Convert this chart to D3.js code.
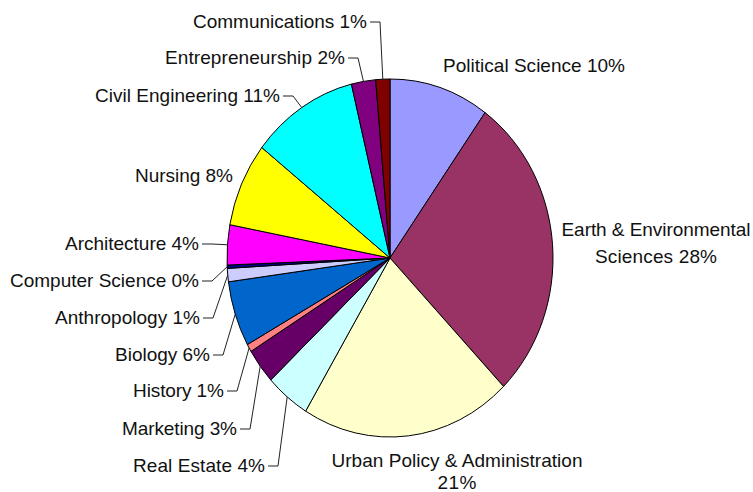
<!DOCTYPE html>
<html>
<head>
<meta charset="utf-8">
<script src="https://cdn.jsdelivr.net/npm/d3@7"></script>
<style>
  html, body { margin: 0; padding: 0; background: #fff; }
  svg { display: block; }
  text { font-family: "Liberation Sans", Arial, sans-serif; font-size: 19px; fill: #111; }
</style>
</head>
<body>
<svg id="chart" width="753" height="492"></svg>
<script>
// ---- data (clockwise from 12 o'clock) ----
const categories = ["Political Science", "Earth & Environmental Sciences", "Urban Policy & Administration",
  "Real Estate", "Marketing", "History", "Biology", "Anthropology", "Computer Science",
  "Architecture", "Nursing", "Civil Engineering", "Entrepreneurship", "Communications"];
const values = [9.9, 27.8, 20.9, 4.4, 3.2, 0.7, 5.9, 1.2, 0.3, 3.6, 7.6, 10.6, 2.4, 1.4];
const percentLabels = ["10%", "28%", "21%", "4%", "3%", "1%", "6%", "1%", "0%", "4%", "8%", "11%", "2%", "1%"];
const colors = ["#9999FF", "#993366", "#FFFFCC", "#CCFFFF", "#660066", "#FF8080", "#0066CC",
  "#CCCCFF", "#000080", "#FF00FF", "#FFFF00", "#00FFFF", "#800080", "#800000"];

// ---- label layout (presentation only) ----
const labelLayout = [
  { lines: ["Political Science 10%"], x: 443, y: 72, anchor: "start", w: [182], leader: false },
  { lines: ["Earth & Environmental", "Sciences 28%"], x: 656, y: 236, anchor: "middle", w: [189, 122], leader: false, dy: 27 },
  { lines: ["Urban Policy & Administration", "21%"], x: 457, y: 467, anchor: "middle", w: [251, 39], leader: false, dy: 22 },
  { lines: ["Real Estate 4%"], x: 265, y: 472, anchor: "end", w: [132], leader: true },
  { lines: ["Marketing 3%"], x: 237, y: 435, anchor: "end", w: [115], leader: true },
  { lines: ["History 1%"], x: 224, y: 397, anchor: "end", w: [91], leader: true },
  { lines: ["Biology 6%"], x: 210, y: 361, anchor: "end", w: [95], leader: true },
  { lines: ["Anthropology 1%"], x: 200, y: 324, anchor: "end", w: [145], leader: true },
  { lines: ["Computer Science 0%"], x: 199, y: 287, anchor: "end", w: [189], leader: true },
  { lines: ["Architecture 4%"], x: 199, y: 250, anchor: "end", w: [134], leader: true },
  { lines: ["Nursing 8%"], x: 233, y: 182, anchor: "end", w: [98], leader: false },
  { lines: ["Civil Engineering 11%"], x: 280, y: 102, anchor: "end", w: [185], leader: true },
  { lines: ["Entrepreneurship 2%"], x: 345, y: 64, anchor: "end", w: [180], leader: true },
  { lines: ["Communications 1%"], x: 367, y: 28, anchor: "end", w: [174], leader: true }
];

const svg = d3.select("#chart");
const cx = 390, cy = 258, rx = 163, ry = 179;

const data = categories.map((c, i) => ({ name: c, value: values[i], color: colors[i], pct: percentLabels[i] }));
const pie = d3.pie().value(d => d.value).sort(null).startAngle(0).endAngle(2 * Math.PI);
const arcs = pie(data);
const arc = d3.arc().innerRadius(0).outerRadius(rx);

const g = svg.append("g").attr("transform", `translate(${cx},${cy}) scale(1,${ry / rx})`);
g.selectAll("path").data(arcs).enter().append("path")
  .attr("d", arc)
  .attr("fill", d => d.data.color)
  .attr("stroke", "#000")
  .attr("stroke-width", 1)
  .attr("vector-effect", "non-scaling-stroke")
  .attr("stroke-linejoin", "round");

function edgePoint(a) {
  const m = (a.startAngle + a.endAngle) / 2;
  return [cx + rx * Math.sin(m), cy - ry * Math.cos(m)];
}

const leaderG = svg.append("g");
arcs.forEach((a, i) => {
  const L = labelLayout[i];
  if (!L.leader) return;
  const [ex, ey] = edgePoint(a);
  const ly = L.y - 6;
  const x0 = L.x + 3, x1 = L.x + 13;
  leaderG.append("polyline")
    .attr("points", `${x0},${ly} ${x1},${ly} ${ex},${ey}`)
    .attr("fill", "none")
    .attr("stroke", "#222")
    .attr("stroke-width", 1);
});

const labG = svg.append("g");
labelLayout.forEach((L, i) => {
  L.lines.forEach((t, j) => {
    labG.append("text")
      .attr("x", L.x)
      .attr("y", L.y + j * (L.dy || 0))
      .attr("text-anchor", L.anchor)
      .attr("textLength", L.w[j])
      .attr("lengthAdjust", "spacing")
      .text(t);
  });
});
</script>
</body>
</html>
